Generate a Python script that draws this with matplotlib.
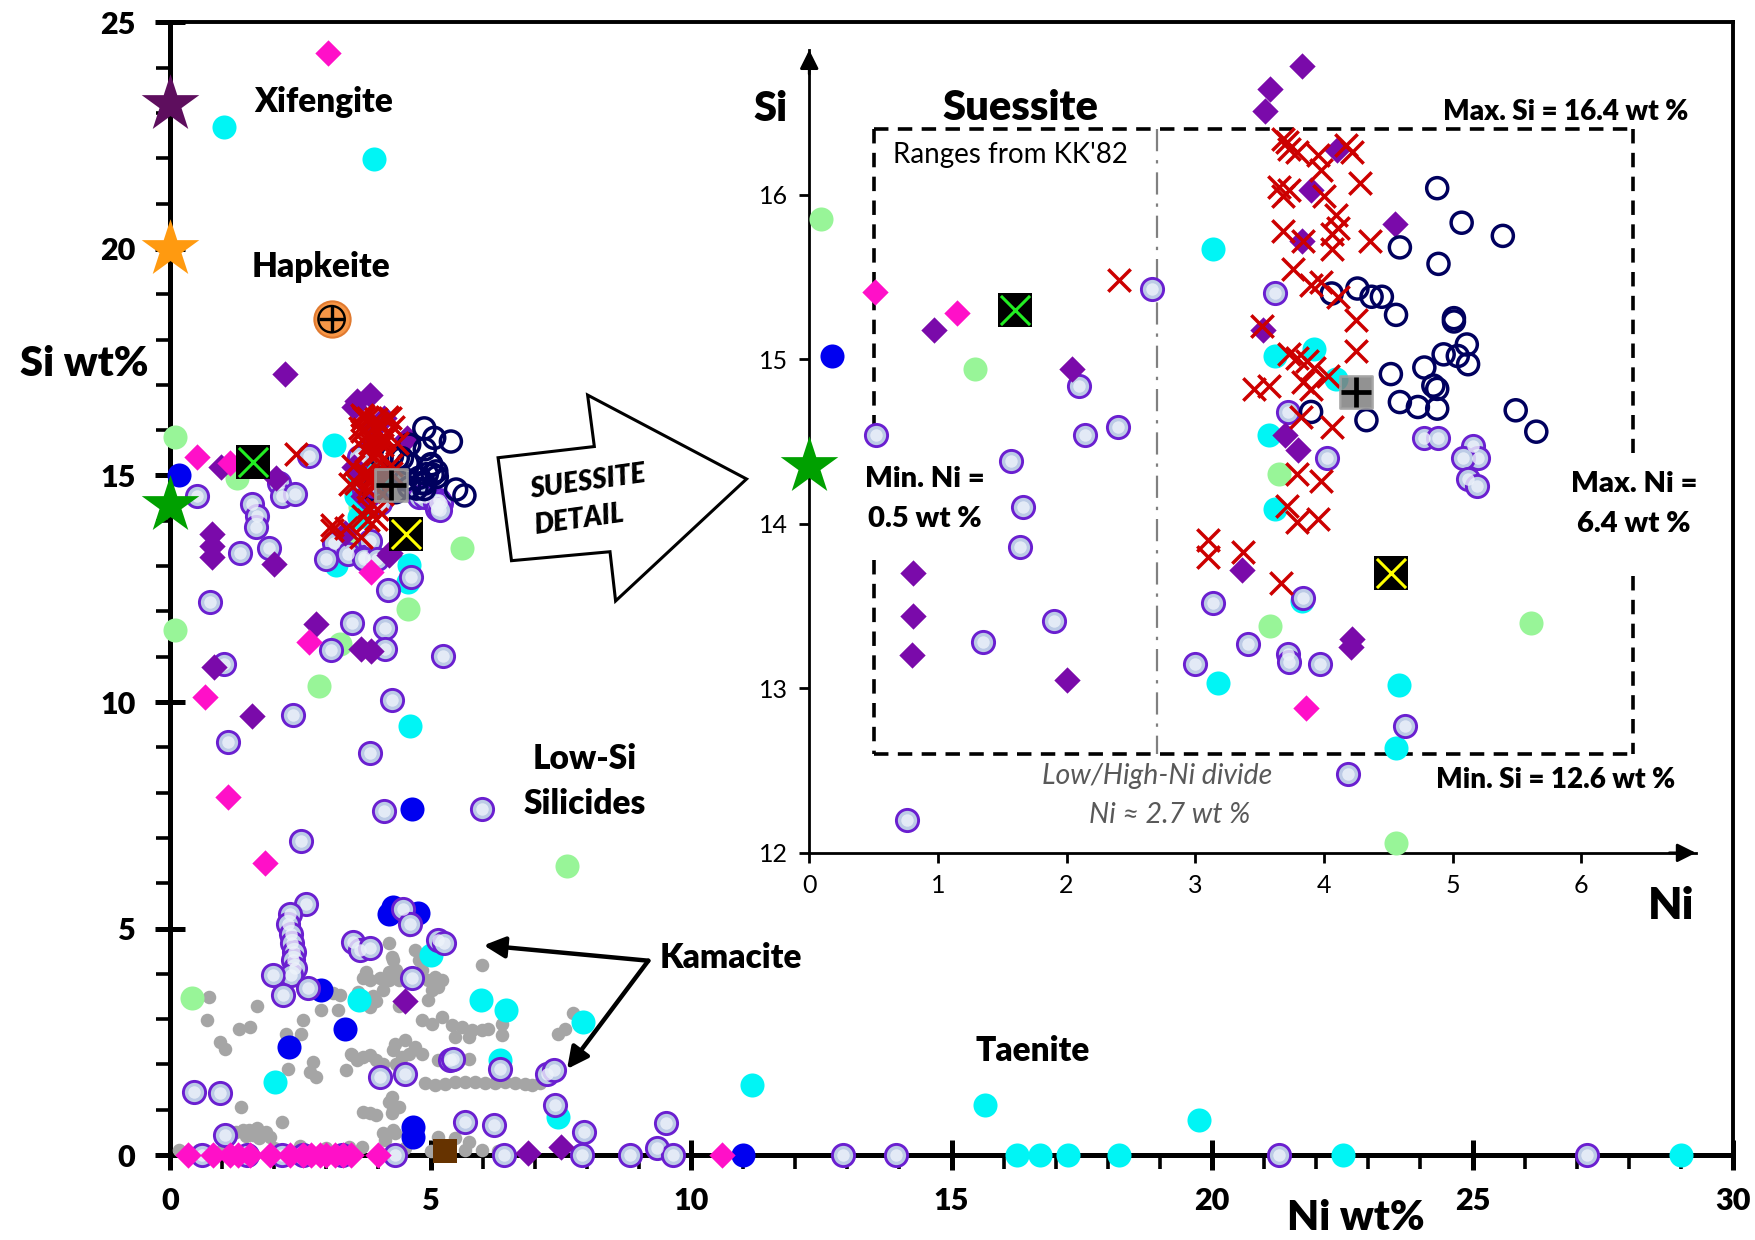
import numpy as np
import matplotlib
matplotlib.use('Agg')
import matplotlib.pyplot as plt
from matplotlib import font_manager as fm
from matplotlib.patches import Polygon
from matplotlib.ticker import MultipleLocator

names = {f.name for f in fm.fontManager.ttflist}
MAIN = 'Lato' if 'Lato' in names else 'DejaVu Sans'
NARROW = 'Liberation Sans Narrow' if 'Liberation Sans Narrow' in names else MAIN
plt.rcParams['font.family'] = [MAIN, 'DejaVu Sans']
BW = 'heavy'

# ---------------- data (Ni wt%, Si wt%) ----------------
kam_x = [0.75,1.67,0.70,1.33,1.53,0.95,1.05,2.55,2.52,2.23,3.22,3.13,3.26,3.7,3.83,4.02,4.21,4.09,3.96,3.83,
         4.21,4.28,4.34,2.75,2.68,2.81,2.27,3.48,3.58,3.7,3.83,3.96,4.09,3.38,4.28,4.34,1.37,2.14,3.7,3.83,
         3.96,4.21,4.28,1.4,1.66,1.85,1.6,1.92,4.09,4.28,
         4.26,4.32,4.39,4.58,4.71,4.77,4.83,4.96,5.09,5.15,5.22,5.03,4.96,5.98,4.83,5.03,5.22,5.41,5.6,5.79,
         5.98,6.11,5.47,5.73,6.37,6.37,7.45,7.58,7.74,4.32,4.51,4.71,4.83,4.58,4.45,5.15,5.73,4.9,5.09,5.28,
         5.47,5.66,5.86,6.05,6.24,6.43,6.62,6.81,6.94,4.26,4.39,4.26,4.32,4.58,
         3.68,3.43,0.17,0.56,5.15,5.47,5.73,5.66,5.98,1.26,1.51,1.77,1.45,1.71,4.13,
         1.0,2.0,2.5,3.0,4.5,5.0,6.3,3.77,4.2,3.6,3.9,4.4,7.1,3.5,2.9]
kam_y = [3.49,3.29,2.99,2.79,2.83,2.5,2.35,2.99,2.67,2.67,3.21,3.57,3.53,3.9,3.86,3.9,3.86,3.64,3.41,3.27,
         4.67,4.3,4.08,2.06,1.84,1.73,1.91,2.24,2.1,2.17,2.21,2.1,2.02,1.88,2.32,2.02,1.07,0.74,0.96,0.92,
         0.88,1.18,0.99,0.55,0.59,0.51,0.44,0.4,0.48,0.55,
         4.38,4.08,3.86,4.96,4.52,4.3,4.08,3.86,3.93,3.71,3.86,3.64,3.42,4.19,2.98,2.9,3.05,2.87,2.83,2.76,
         2.76,2.79,2.61,2.61,2.9,2.65,2.68,2.79,3.13,2.46,2.54,2.39,2.24,2.24,2.17,2.1,2.13,1.58,1.54,1.57,
         1.62,1.62,1.62,1.58,1.58,1.62,1.58,1.57,1.54,1.29,1.07,0.92,0.48,0.33,
         0.18,0.18,0.11,0.11,0.4,0.37,0.29,0.11,0.11,0.52,0.55,0.48,0.41,0.37,0.33,
         0.12,0.15,0.2,0.15,0.15,0.1,0.08,4.05,4.05,3.6,3.5,3.3,1.6,2.2,3.2]

lav_x = [2.66,3.62,2.1,0.52,2.14,2.4,1.57,1.66,1.64,3.72,4.02,4.78,4.89,5.16,5.2,5.08,5.12,5.19,3.14,3.84,
         3.41,3.72,3.73,3.0,3.97,1.35,1.9,4.63,4.19,0.76,
         3.5,4.13,3.09,4.13,1.03,5.23,4.26,2.36,1.11,3.83,4.1,5.98,2.51,2.61,2.3,2.27,2.33,2.35,2.38,2.36,
         2.39,2.33,1.97,2.16,2.65,3.52,3.64,3.83,4.48,4.61,5.15,5.25,4.64,5.38,5.44,4.51,4.02,6.33,7.23,7.36,
         7.39,5.66,6.21,7.95,0.45,0.95,1.05,9.52,9.35,
         0.62,1.48,2.14,2.56,3.3,4.32,6.4,7.9,8.83,9.65,12.91,13.94,21.29,27.19]
lav_y = [15.43,15.4,14.84,14.54,14.54,14.59,14.38,14.1,13.86,14.68,14.4,14.52,14.52,14.47,14.4,14.4,14.27,14.23,13.52,13.55,
         13.27,13.21,13.16,13.15,13.15,13.28,13.41,12.77,12.48,12.2,
         11.75,11.63,11.14,11.17,10.85,11.01,10.04,9.72,9.11,8.87,7.59,7.64,6.94,5.54,5.33,5.11,4.89,4.67,4.49,4.3,
         4.12,3.97,3.97,3.53,3.68,4.71,4.52,4.56,5.44,5.11,4.74,4.67,3.9,2.1,2.11,1.8,1.73,1.91,1.8,1.88,
         1.1,0.74,0.66,0.51,1.4,1.38,0.44,0.71,0.16,
         0,0,0,0,0,0,0,0,0,0,0,0,0,0]

cyan_x = [3.14,3.62,3.92,4.09,3.57,3.62,3.83,3.18,4.58,4.56,
          1.03,3.91,4.61,5.01,3.63,5.97,6.45,7.93,6.33,2.01,7.45,11.17,15.64,19.74,
          16.26,16.69,17.23,18.22,22.51,29.0]
cyan_y = [15.67,15.02,15.06,14.88,14.54,14.09,13.53,13.03,13.02,12.64,
          22.69,21.98,9.48,4.41,3.42,3.42,3.2,2.94,2.1,1.62,0.85,1.54,1.11,0.78,
          0,0,0,0,0,0]

green_x = [0.09,1.29,3.65,3.58,5.61,4.56,0.09,2.86,3.26,7.62,0.42]
green_y = [15.85,14.94,14.3,13.38,13.4,12.06,11.58,10.35,11.27,6.38,3.46]

blue_x = [0.18,4.65,4.21,4.27,4.75,2.9,3.35,2.28,4.67,4.67,11.0]
blue_y = [15.02,7.64,5.33,5.48,5.35,3.64,2.79,2.39,0.63,0.4,0]

pdia_x = [3.83,3.58,3.54,4.1,3.9,4.55,3.83,3.53,0.97,2.04,3.7,3.8,0.81,0.81,0.8,2.0,3.36,4.22,4.21,
          2.2,2.81,3.67,3.86,0.84,1.57,4.5,6.87,7.5]
pdia_y = [16.78,16.64,16.51,16.27,16.03,15.82,15.72,15.18,15.18,14.94,14.54,14.45,13.7,13.44,13.2,13.05,13.72,13.3,13.25,
          17.25,11.72,11.17,11.13,10.78,9.69,3.4,0.04,0.18]

mag_x = [3.03,0.51,1.15,3.86,0.67,1.11,1.82,2.66,
         0.35,0.83,1.15,1.31,1.53,1.92,2.3,2.55,2.71,2.87,3.0,3.16,3.32,3.48,3.99,10.6]
mag_y = [24.32,15.41,15.28,12.88,10.1,7.9,6.44,11.32,
         0,0,0,0,0,0,0,0,0,0,0,0,0,0,0,0]

red_x = [3.71,3.73,3.68,3.79,3.95,4.17,4.22,4.28,3.65,3.68,3.73,3.98,4.0,4.09,4.11,4.06,3.68,3.84,4.06,4.36,
         3.76,3.9,3.98,4.11,4.25,4.25,3.52,3.73,3.79,3.87,3.46,3.57,3.84,3.9,3.92,4.03,3.82,4.06,3.79,3.98,
         3.71,3.79,3.95,2.41,3.1,3.1,3.37,3.67]
red_y = [16.32,16.28,16.34,16.26,16.24,16.30,16.26,16.07,16.05,15.99,16.03,16.15,15.99,15.88,15.8,15.76,15.78,15.72,15.67,15.72,
         15.55,15.45,15.47,15.38,15.24,15.05,15.2,15.03,15.01,14.99,14.82,14.84,14.86,14.82,14.95,14.9,14.65,14.59,14.3,14.26,
         14.11,14.01,14.03,15.48,13.9,13.8,13.83,13.64]

navy_x = [4.88,5.07,5.39,4.59,4.89,4.06,4.26,4.37,4.45,4.56,5.01,5.01,5.11,4.93,5.04,5.12,4.52,4.78,4.85,4.88,
          4.59,4.73,4.88,4.33,3.9,5.49,5.65]
navy_y = [16.04,15.83,15.75,15.68,15.58,15.4,15.43,15.38,15.38,15.27,15.25,15.23,15.09,15.03,15.02,14.97,14.91,14.95,14.84,14.82,
          14.74,14.71,14.7,14.63,14.68,14.69,14.56]

xifengite_pt = (0.0, 23.2)
hapkeite_pt = (0.0, 20.0)
green_star_pt = (0.0, 14.35)
greenx_sq = (1.6, 15.3)
yellowx_sq = (4.52, 13.7)
grayplus_sq = (4.25, 14.8)
orange_cross = (3.1, 18.45)
brown_sq = (5.27, 0.1)

# ---------------- figure ----------------
fig = plt.figure(figsize=(17.55, 12.40), dpi=100)
ax = fig.add_axes([0.0969, 0.0685, 0.8906, 0.9134])
ax.set_xlim(0, 30)
ax.set_ylim(0, 25)

LAV_FACE = '#bccbe6'
LAV_EDGE = '#6a1fd0'


def draw(a, inset=False):
    def sel(xs, ys):
        x = np.asarray(xs, float)
        y = np.asarray(ys, float)
        if inset:
            m = (x <= 6.95) & (y >= 11.95) & (y <= 16.95)
            return x[m], y[m]
        return x, y
    kw = dict(clip_on=False)
    x, y = sel(kam_x, kam_y)
    a.scatter(x, y, s=95, c='#a5a5a5', lw=0, zorder=3, **kw)
    x, y = sel(green_x, green_y)
    a.scatter(x, y, s=300, c='#98f598', lw=0, zorder=3.1, **kw)
    x, y = sel(cyan_x, cyan_y)
    a.scatter(x, y, s=300, c='#00f5f5', lw=0, zorder=3.2, **kw)
    x, y = sel(blue_x, blue_y)
    a.scatter(x, y, s=300, c='#0000f0', lw=0, zorder=3.3, **kw)
    x, y = sel(lav_x, lav_y)
    a.scatter(x, y, s=255, c=LAV_FACE, edgecolors=LAV_EDGE, lw=2.1, zorder=3.4, **kw)
    a.scatter(x, y, s=80, c='#eef3fb', lw=0, alpha=0.8, zorder=3.41, **kw)
    x, y = sel(pdia_x, pdia_y)
    a.scatter(x, y, s=180, marker='D', c='#7a0aaa', lw=0, zorder=3.5, **kw)
    x, y = sel(mag_x, mag_y)
    a.scatter(x, y, s=180, marker='D', c='#ff10c8', lw=0, zorder=3.6, **kw)
    x, y = sel(navy_x, navy_y)
    a.scatter(x, y, s=230, facecolors='none', edgecolors='#00005e', lw=2.5, zorder=3.7, **kw)
    x, y = sel(red_x, red_y)
    a.scatter(x, y, s=260, marker='x', c='#cc0000', lw=2.5, zorder=3.8, **kw)
    # special markers
    a.scatter([greenx_sq[0]], [greenx_sq[1]], s=580, marker='s', c='black', lw=0, zorder=4, **kw)
    a.scatter([greenx_sq[0]], [greenx_sq[1]], s=440, marker='x', c='#22ee22', lw=2.2, zorder=4.1, **kw)
    a.scatter([yellowx_sq[0]], [yellowx_sq[1]], s=580, marker='s', c='black', lw=0, zorder=4, **kw)
    a.scatter([yellowx_sq[0]], [yellowx_sq[1]], s=440, marker='x', c='#ffff00', lw=2.2, zorder=4.1, **kw)
    a.scatter([grayplus_sq[0]], [grayplus_sq[1]], s=540, marker='s', c='#7f7f7f', alpha=0.85,
              edgecolors='#a0a0a0', lw=2, zorder=4, **kw)
    a.scatter([grayplus_sq[0]], [grayplus_sq[1]], s=440, marker='+', c='black', lw=3.4, zorder=4.1, **kw)
    x, y = sel([green_star_pt[0]], [green_star_pt[1]])
    a.scatter(x, y, s=1900, marker='*', c='#00a000', lw=0, zorder=4.2, **kw)
    if not inset:
        a.scatter([xifengite_pt[0]], [xifengite_pt[1]], s=1900, marker='*', c='#5e0e5e', lw=0, zorder=4.2, **kw)
        a.scatter([hapkeite_pt[0]], [hapkeite_pt[1]], s=1900, marker='*', c='#ff9a10', lw=0, zorder=4.2, **kw)
        a.scatter([orange_cross[0]], [orange_cross[1]], s=680, c='#f79646', edgecolors='#e07a30', lw=1.5, zorder=4, **kw)
        a.scatter([orange_cross[0]], [orange_cross[1]], s=360, facecolors='none', edgecolors='black', lw=1.7, zorder=4.1, **kw)
        a.scatter([orange_cross[0]], [orange_cross[1]], s=360, marker='+', c='black', lw=2.4, zorder=4.2, **kw)
        a.scatter([brown_sq[0]], [brown_sq[1]], s=320, marker='s', c='#663300', lw=0, zorder=4, **kw)


draw(ax)

# main axes styling
for side in ['left', 'bottom', 'top', 'right']:
    ax.spines[side].set_color('black')
ax.spines['left'].set_linewidth(3.6)
ax.spines['bottom'].set_linewidth(3.6)
ax.spines['top'].set_linewidth(2.8)
ax.spines['right'].set_linewidth(2.8)
for s in ax.spines.values():
    s.set_zorder(2.5)
ax.xaxis.set_major_locator(MultipleLocator(5))
ax.xaxis.set_minor_locator(MultipleLocator(1))
ax.yaxis.set_major_locator(MultipleLocator(5))
ax.yaxis.set_minor_locator(MultipleLocator(1))
ax.tick_params(which='major', direction='inout', length=22, width=3.6, labelsize=22)
ax.tick_params(which='minor', direction='out', length=10, width=2.6)
ax.tick_params(axis='x', which='major', pad=12)
ax.tick_params(axis='y', which='major', pad=14)
for lab in ax.get_xticklabels() + ax.get_yticklabels():
    lab.set_fontweight(BW)

ax.text(-1.65, 17.45, 'Si wt%', fontsize=30, fontweight=BW, ha='center', va='center', clip_on=False)
ax.text(22.75, -1.4, 'Ni wt%', fontsize=30, fontweight=BW, ha='center', va='center', clip_on=False)
ax.text(2.95, 23.25, 'Xifengite', fontsize=24, fontweight=BW, ha='center', va='center')
ax.text(2.9, 19.6, 'Hapkeite', fontsize=24, fontweight=BW, ha='center', va='center')
ax.text(7.95, 8.75, 'Low-Si', fontsize=24, fontweight=BW, ha='center', va='center')
ax.text(7.95, 7.75, 'Silicides', fontsize=24, fontweight=BW, ha='center', va='center')
ax.text(9.4, 4.35, 'Kamacite', fontsize=24, fontweight=BW, ha='left', va='center')
ax.text(16.55, 2.3, 'Taenite', fontsize=24, fontweight=BW, ha='center', va='center')

apr = dict(arrowstyle='-|>', lw=3.2, color='black', mutation_scale=32, shrinkA=0, shrinkB=0)
ax.annotate('', xy=(6.02, 4.63), xytext=(9.18, 4.29), arrowprops=apr, zorder=5)
ax.annotate('', xy=(7.62, 1.9), xytext=(9.18, 4.29), arrowprops=apr, zorder=5)

# block arrow "SUESSITE DETAIL" (figure fraction coordinates)
W, H = 1568.0, 1108.0
poly_px = [(445, 409), (531, 399), (525, 353), (667, 428), (550, 537), (545, 493), (457, 501)]
poly = Polygon([(px / W, 1 - py / H) for px, py in poly_px], closed=True, transform=fig.transFigure,
               facecolor='white', edgecolor='black', lw=2.2, zorder=6)
fig.patches.append(poly)
fig.text(525 / W, 1 - 431 / H, 'SUESSITE', fontsize=20, fontweight=BW, fontstyle='italic',
         rotation=8, ha='center', va='center', zorder=7)
fig.text(517 / W, 1 - 464 / H, 'DETAIL', fontsize=20, fontweight=BW, fontstyle='italic',
         rotation=8, ha='center', va='center', zorder=7)

# ---------------- inset ----------------
ins = fig.add_axes([0.4611, 0.3122, 0.5052, 0.6475])
ins.set_xlim(0, 6.89)
ins.set_ylim(12, 16.88)
ins.patch.set_alpha(0)
draw(ins, inset=True)
for side in ['top', 'right']:
    ins.spines[side].set_visible(False)
ins.spines['left'].set_linewidth(2.0)
ins.spines['bottom'].set_linewidth(2.0)
ins.set_xticks(range(0, 7))
ins.set_yticks(range(12, 17))
ins.tick_params(direction='out', length=7, width=2, labelsize=18, pad=8)
for lab in ins.get_xticklabels() + ins.get_yticklabels():
    lab.set_fontfamily([NARROW, 'DejaVu Sans'])
ins.annotate('', xy=(0, 1.0), xytext=(0, 0.97), xycoords='axes fraction',
             arrowprops=dict(arrowstyle='-|>', lw=2, color='black', mutation_scale=28, shrinkA=0, shrinkB=0))
ins.annotate('', xy=(1.0, 0), xytext=(0.97, 0), xycoords='axes fraction',
             arrowprops=dict(arrowstyle='-|>', lw=2, color='black', mutation_scale=28, shrinkA=0, shrinkB=0))

# dashed KK'82 box
dk = dict(color='black', lw=2.6, ls=(0, (4, 2.6)), zorder=2)
ins.plot([0.5, 6.4], [16.4, 16.4], **dk)
ins.plot([0.5, 6.4], [12.6, 12.6], **dk)
ins.plot([0.5, 0.5], [16.4, 14.47], **dk)
ins.plot([0.5, 0.5], [13.78, 12.6], **dk)
ins.plot([6.4, 6.4], [16.4, 14.43], **dk)
ins.plot([6.4, 6.4], [13.68, 12.6], **dk)
ins.plot([2.7, 2.7], [16.4, 12.6], color='#808080', lw=1.6, ls=(0, (10, 4, 1.5, 4)), zorder=2)

nf = [NARROW, 'DejaVu Sans']
ins.text(-0.3, 16.52, 'Si', fontsize=30, fontweight=BW, ha='center', va='center', clip_on=False)
ins.text(6.7, 11.68, 'Ni', fontsize=32, fontweight=BW, ha='center', va='center', clip_on=False)
ins.text(1.64, 16.53, 'Suessite', fontsize=30, fontweight=BW, ha='center', va='center')
ins.text(6.83, 16.5, 'Max. Si = 16.4 wt %', fontsize=20, fontweight=BW, ha='right', va='center', family=nf)
ins.text(0.65, 16.24, "Ranges from KK'82", fontsize=20, ha='left', va='center', family=nf)
ins.text(0.9, 14.27, 'Min. Ni =', fontsize=21, fontweight=BW, ha='center', va='center', family=nf)
ins.text(0.9, 14.03, '0.5 wt %', fontsize=21, fontweight=BW, ha='center', va='center', family=nf)
ins.text(6.41, 14.24, 'Max. Ni =', fontsize=21, fontweight=BW, ha='center', va='center', family=nf)
ins.text(6.41, 14.0, '6.4 wt %', fontsize=21, fontweight=BW, ha='center', va='center', family=nf)
ins.text(5.8, 12.44, 'Min. Si = 12.6 wt %', fontsize=20, fontweight=BW, ha='center', va='center', family=nf)
ins.text(2.7, 12.47, 'Low/High-Ni divide', fontsize=20.5, fontstyle='italic', color='#595959',
         ha='center', va='center', family=nf)
ins.text(2.8, 12.23, 'Ni \u2248 2.7 wt %', fontsize=20.5, fontstyle='italic', color='#595959',
         ha='center', va='center', family=nf)

fig.savefig('out.png', dpi=100)
